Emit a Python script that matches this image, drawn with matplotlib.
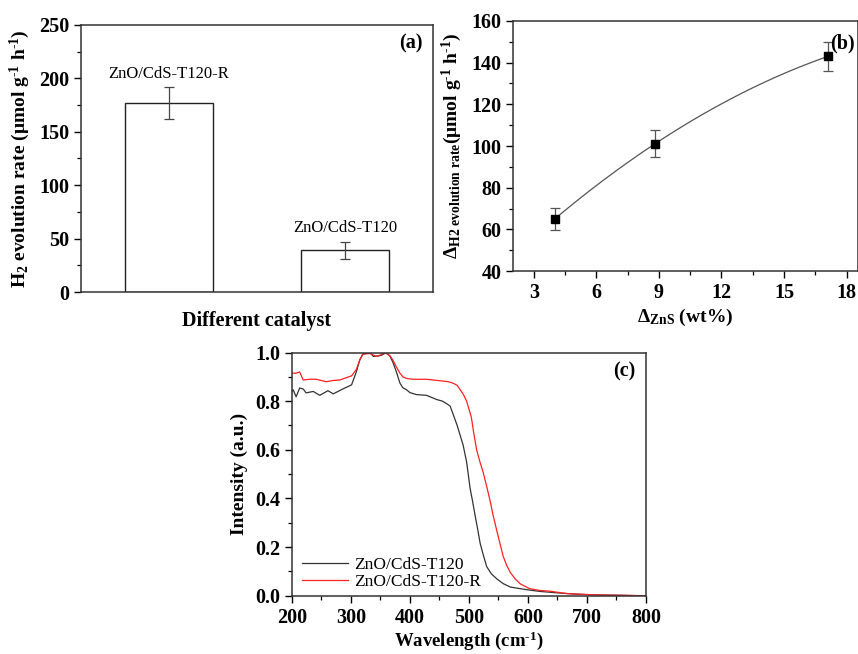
import matplotlib
matplotlib.use("Agg")
import matplotlib.pyplot as plt
import numpy as np
from matplotlib.ticker import MultipleLocator

plt.rcParams["font.family"] = ["Liberation Serif", "DejaVu Serif"]
plt.rcParams["mathtext.fontset"] = "custom"
plt.rcParams["mathtext.rm"] = "Liberation Serif:bold"
plt.rcParams["mathtext.bf"] = "Liberation Serif:bold"
plt.rcParams["mathtext.it"] = "Liberation Serif:bold"
plt.rcParams["mathtext.default"] = "bf"

# (a) bar data
catalysts = ["ZnO/CdS-T120-R", "ZnO/CdS-T120"]
rates = [177, 39]
rate_err = [15, 8]

# (b) delta data
zns_wt = [4.0, 8.8, 17.1]
delta_rate = [65, 101, 143]
delta_err = [5.3, 6.5, 7.0]

# (c) spectra
wl_t120 = [200, 202, 207, 213, 219, 224, 236, 247, 261, 270, 287, 301, 309, 315, 320, 332,
           338, 345, 352, 360, 366, 371, 377, 383, 388, 394, 400, 411, 428, 445, 455, 462,
           468, 473, 480, 485, 490, 496, 502, 506, 510, 515, 519, 524, 530, 538, 547, 558,
           570, 585, 598, 620, 650, 680, 700, 730, 760, 800]
int_t120 = [0.84, 0.847, 0.818, 0.854, 0.85, 0.834, 0.84, 0.824, 0.843, 0.83, 0.851, 0.867, 0.92, 0.97, 0.993, 1.0,
            0.984, 0.985, 0.989, 1.0, 0.985, 0.96, 0.92, 0.874, 0.855, 0.847, 0.835, 0.827, 0.824, 0.807, 0.80, 0.79,
            0.78, 0.747, 0.70, 0.66, 0.62, 0.55, 0.44, 0.39, 0.335, 0.27, 0.215, 0.17, 0.12, 0.09, 0.07, 0.05,
            0.036, 0.03, 0.025, 0.018, 0.012, 0.007, 0.005, 0.003, 0.002, 0.0]

wl_t120r = [200, 207, 213, 219, 230, 241, 258, 270, 281, 301, 309, 315, 320, 332, 343, 350,
            357, 366, 372, 377, 383, 388, 395, 405, 428, 451, 465, 473, 480, 485, 490, 496,
            504, 508, 513, 518, 524, 530, 536, 541, 547, 553, 558, 564, 570, 578, 587, 603,
            620, 637, 666, 700, 730, 760, 800]
int_t120r = [0.915, 0.915, 0.92, 0.887, 0.89, 0.89, 0.88, 0.885, 0.887, 0.904, 0.93, 0.97, 0.993, 0.996, 0.984, 0.99,
             1.0, 0.987, 0.965, 0.94, 0.915, 0.90, 0.893, 0.89, 0.89, 0.884, 0.88, 0.874, 0.865, 0.847, 0.83, 0.80,
             0.734, 0.67, 0.60, 0.555, 0.508, 0.45, 0.388, 0.33, 0.269, 0.21, 0.162, 0.125, 0.096, 0.07, 0.049, 0.029,
             0.022, 0.019, 0.009, 0.005, 0.003, 0.002, 0.0]

fig = plt.figure(figsize=(8.58, 6.54), dpi=100)

UNIT = r"(μmol g$^{\text{-}1}$ h$^{\text{-}1}$)"


def style_axes(ax):
    for s in ax.spines.values():
        s.set_linewidth(1.1)
        s.set_color("#333333")
    ax.tick_params(which="major", length=5, direction="out", labelsize=14.5, width=1.0)
    ax.tick_params(which="minor", length=3, direction="out", width=0.9)
    for lbl in ax.get_xticklabels() + ax.get_yticklabels():
        lbl.set_fontweight("bold")


# ---- (a)
ax1 = fig.add_axes([0.0944, 0.5535, 0.4103, 0.4083])
pos = np.arange(1, len(rates) + 1)
ax1.bar(pos, rates, width=0.5, color="white", edgecolor="#222222", linewidth=1.0)
ax1.errorbar(pos, rates, yerr=rate_err, fmt="none", ecolor="#444444", elinewidth=0.9, capsize=3.5, capthick=0.9)
for p, r, e, name in zip(pos, rates, rate_err, catalysts):
    ax1.text(p, r + e + 5, name, ha="center", va="bottom", fontsize=12)
ax1.set_xlim(0.5, 2.5)
ax1.set_ylim(0, 250)
ax1.set_xticks([])
ax1.yaxis.set_major_locator(MultipleLocator(50))
ax1.yaxis.set_minor_locator(MultipleLocator(25))
style_axes(ax1)
ax1.set_ylabel("H$_2$ evolution rate " + UNIT, fontsize=14, fontweight="bold", labelpad=5)
ax1.set_xlabel("Different catalyst", fontsize=14.5, fontweight="bold", labelpad=14)
ax1.text(0.97, 0.93, "(a)", transform=ax1.transAxes, ha="right", va="center", fontsize=14.5, fontweight="bold")

# ---- (b)
ax2 = fig.add_axes([0.598, 0.5856, 0.402, 0.3823])
coef = np.polyfit(zns_wt, delta_rate, 2)
xs = np.linspace(zns_wt[0], zns_wt[-1], 100)
ax2.plot(xs, np.polyval(coef, xs), color="#555555", linewidth=0.9)
ax2.errorbar(zns_wt, delta_rate, yerr=delta_err, fmt="s", color="black", markersize=6,
             ecolor="#555555", elinewidth=0.9, capsize=3.5, capthick=0.9)
ax2.set_xlim(2.0, 18.55)
ax2.set_ylim(40, 160)
ax2.xaxis.set_major_locator(MultipleLocator(3))
ax2.xaxis.set_minor_locator(MultipleLocator(1.5))
ax2.yaxis.set_major_locator(MultipleLocator(20))
ax2.yaxis.set_minor_locator(MultipleLocator(10))
style_axes(ax2)
ax2.set_ylabel(r"Δ$_{\mathrm{H2\ evolution\ rate}}$" + UNIT, fontsize=14, fontweight="bold", labelpad=5)
ax2.set_xlabel(r"Δ$_{\mathrm{ZnS}}$ (wt%)", fontsize=14, fontweight="bold", labelpad=3)
ax2.text(0.99, 0.91, "(b)", transform=ax2.transAxes, ha="right", va="center", fontsize=14.5, fontweight="bold")

# ---- (c)
ax3 = fig.add_axes([0.3403, 0.0890, 0.4126, 0.3720])
ax3.plot(wl_t120, int_t120, color="#333333", linewidth=0.9, label="ZnO/CdS-T120")
ax3.plot(wl_t120r, int_t120r, color="#ff2020", linewidth=0.9, label="ZnO/CdS-T120-R")
ax3.set_xlim(200, 800)
ax3.set_ylim(0, 1.0)
ax3.xaxis.set_major_locator(MultipleLocator(100))
ax3.xaxis.set_minor_locator(MultipleLocator(50))
ax3.yaxis.set_major_locator(MultipleLocator(0.2))
ax3.yaxis.set_minor_locator(MultipleLocator(0.1))
style_axes(ax3)
ax3.set_ylabel("Intensity (a.u.)", fontsize=14, fontweight="bold", labelpad=5)
ax3.set_xlabel("Wavelength (cm$^{\\text{-}1}$)", fontsize=13.5, fontweight="bold", labelpad=1)
ax3.text(0.97, 0.92, "(c)", transform=ax3.transAxes, ha="right", va="center", fontsize=14.5, fontweight="bold")
ax3.legend(loc="lower left", bbox_to_anchor=(0.0, -0.02), frameon=False, fontsize=12.5, handlelength=2.6,
           handletextpad=0.4, borderaxespad=0.2, labelspacing=0.05)

fig.savefig("out.png", dpi=100)
